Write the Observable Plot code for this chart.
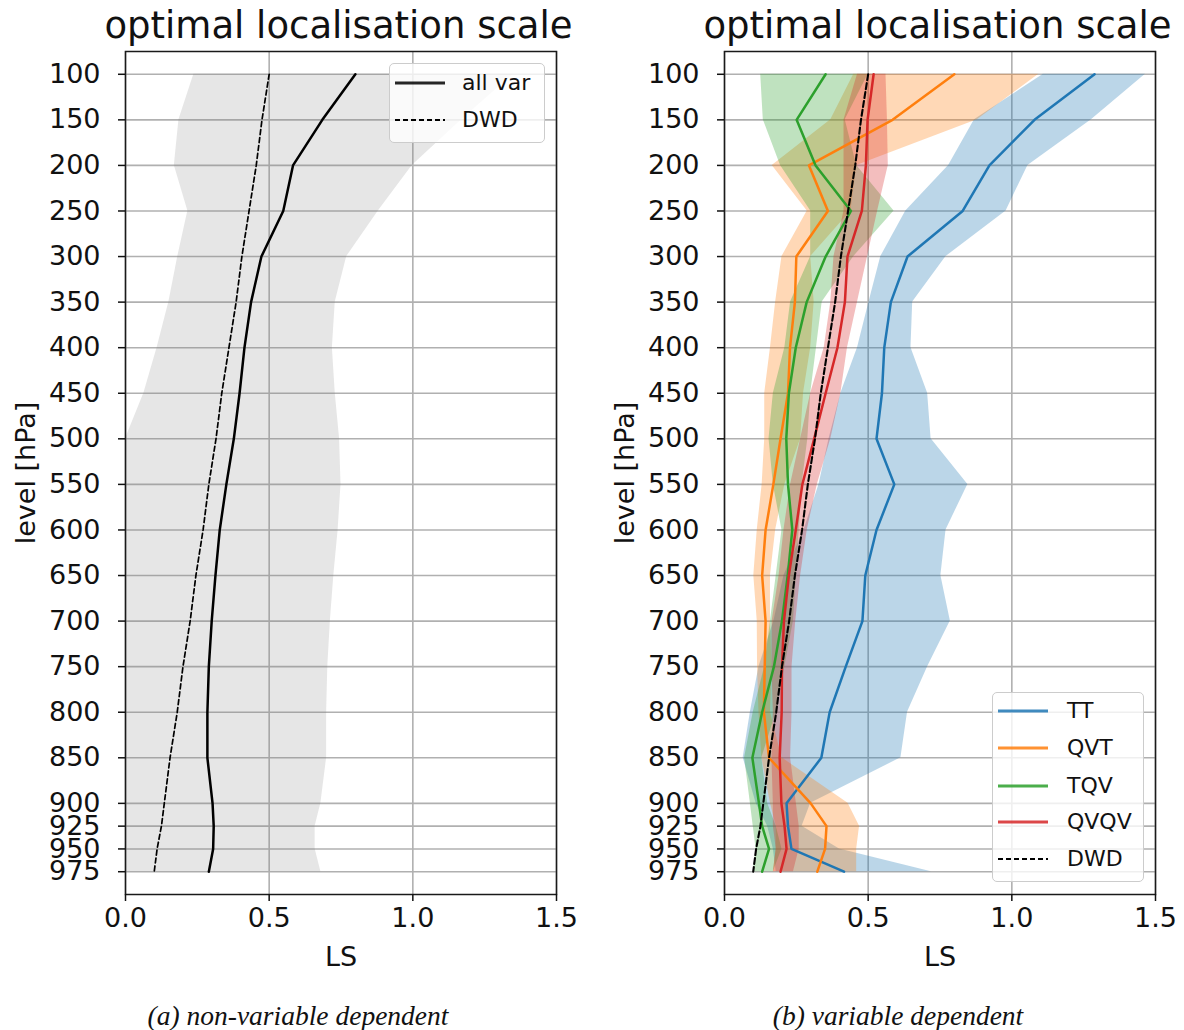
<!DOCTYPE html>
<html>
<head>
<meta charset="utf-8">
<script src="https://cdn.jsdelivr.net/npm/d3@7"></script>
<script src="https://cdn.jsdelivr.net/npm/@observablehq/plot@0.6"></script>
<style>
  body { margin: 0; background: white; }
  #wrap { position: relative; width: 1184px; height: 1030px; background: white; font-family: "DejaVu Sans", sans-serif; color: #111; }
  .panel { position: absolute; top: 0; }
  .title { position: absolute; top: 7px; font-size: 37px; line-height: 37px; white-space: nowrap; transform: translateX(-50%); }
  .caption { position: absolute; top: 1002px; font-family: "Liberation Serif", serif; font-style: italic; font-size: 27.5px; line-height: 27px; white-space: nowrap; transform: translateX(-50%); }
  .legend { position: absolute; background: rgba(255,255,255,0.8); border: 1.5px solid #cccccc; border-radius: 5px; box-sizing: border-box; }
  .legend .row { position: absolute; left: 0; height: 0; }
  .legend svg { position: absolute; left: 5px; top: -5px; overflow: visible; }
  .legend span { position: absolute; top: -13px; font-size: 22px; line-height: 26px; white-space: nowrap; color: #111; }
</style>
</head>
<body>
<div id="wrap"></div>
<script>
// ---------------- data ----------------
const levels = [100,150,200,250,300,350,400,450,500,550,600,650,700,750,800,850,900,925,950,975];
const xTicks = [0, 0.5, 1.0, 1.5];

// (a) non-variable dependent
const allVar   = [0.800,0.685,0.583,0.549,0.473,0.437,0.414,0.397,0.377,0.351,0.328,0.313,0.300,0.290,0.285,0.285,0.303,0.307,0.305,0.290];
const allVarLo = [0.238,0.186,0.170,0.217,0.182,0.151,0.110,0.064,0.000,0.000,0.000,0.000,0.000,0.000,0.000,0.000,0.000,0.000,0.000,0.000];
const allVarHi = [1.350,1.170,0.998,0.880,0.770,0.730,0.720,0.730,0.745,0.750,0.740,0.725,0.713,0.704,0.700,0.700,0.680,0.660,0.660,0.680];
const dwd      = [0.500,0.475,0.455,0.430,0.405,0.385,0.360,0.335,0.315,0.290,0.270,0.245,0.225,0.200,0.180,0.155,0.135,0.125,0.110,0.100];

// (b) variable dependent
const seriesNames  = ["TT","QVT","TQV","QVQV"];
const seriesColors = ["#1f77b4","#ff7f0e","#2ca02c","#d62728"];
const TT     = [1.288,1.079,0.922,0.829,0.637,0.579,0.556,0.548,0.529,0.591,0.529,0.490,0.480,0.422,0.366,0.337,0.216,0.221,0.233,0.416];
const TTlo   = [1.110,0.870,0.780,0.631,0.544,0.503,0.463,0.405,0.364,0.329,0.277,0.207,0.172,0.120,0.090,0.065,0.110,0.150,0.170,0.180];
const TThi   = [1.465,1.277,1.056,0.980,0.771,0.655,0.649,0.707,0.719,0.847,0.771,0.753,0.786,0.707,0.637,0.614,0.300,0.270,0.400,0.720];
const QVT    = [0.800,0.585,0.294,0.360,0.250,0.245,0.228,0.221,0.195,0.170,0.143,0.131,0.143,0.140,0.137,0.155,0.300,0.355,0.350,0.323];
const QVTlo  = [0.450,0.370,0.166,0.288,0.200,0.178,0.160,0.140,0.140,0.131,0.114,0.102,0.114,0.115,0.120,0.130,0.160,0.180,0.180,0.170];
const QVThi  = [1.094,0.880,0.460,0.440,0.300,0.312,0.300,0.275,0.265,0.210,0.178,0.160,0.160,0.165,0.160,0.200,0.430,0.470,0.460,0.460];
const TQV    = [0.352,0.251,0.317,0.440,0.352,0.286,0.248,0.224,0.215,0.221,0.236,0.220,0.200,0.172,0.131,0.097,0.120,0.131,0.155,0.131];
const TQVlo  = [0.126,0.135,0.195,0.300,0.300,0.230,0.210,0.170,0.155,0.170,0.200,0.180,0.160,0.140,0.100,0.070,0.090,0.100,0.110,0.100];
const TQVhi  = [0.500,0.420,0.460,0.590,0.450,0.340,0.320,0.300,0.290,0.270,0.260,0.250,0.240,0.210,0.180,0.130,0.150,0.180,0.200,0.170];
const QVQV   = [0.519,0.498,0.492,0.478,0.428,0.419,0.393,0.352,0.312,0.271,0.248,0.224,0.207,0.200,0.199,0.192,0.198,0.209,0.216,0.195];
const QVQVlo = [0.463,0.416,0.416,0.416,0.381,0.370,0.347,0.300,0.265,0.230,0.207,0.190,0.166,0.165,0.170,0.165,0.170,0.170,0.180,0.170];
const QVQVhi = [0.562,0.567,0.570,0.533,0.498,0.463,0.428,0.405,0.370,0.323,0.288,0.265,0.248,0.235,0.235,0.230,0.250,0.260,0.260,0.240];

const titleText = "optimal localisation scale";
const xLabel = "LS";
const yLabel = "level [hPa]";
const captions = ["(a) non-variable dependent", "(b) variable dependent"];

// ---------------- helpers ----------------
const rows = (v, lo, hi, series) => levels.map((p, i) => ({level: p, v: v[i], lo: lo ? lo[i] : null, hi: hi ? hi[i] : null, series}));

const leftData = rows(allVar, allVarLo, allVarHi, "all var");
const dwdData  = rows(dwd, null, null, "DWD");
const rightData = [
  ...rows(TT, TTlo, TThi, "TT"),
  ...rows(QVT, QVTlo, QVThi, "QVT"),
  ...rows(TQV, TQVlo, TQVhi, "TQV"),
  ...rows(QVQV, QVQVlo, QVQVhi, "QVQV")
];

const W = 592, H = 990;
const FS = 27;

function baseMarks() {
  return [
    Plot.gridX({ticks: xTicks, stroke: "#b0b0b0", strokeOpacity: 1, strokeWidth: 1.6}),
    Plot.gridY({ticks: levels, stroke: "#b0b0b0", strokeOpacity: 1, strokeWidth: 1.6})
  ];
}
function axisMarks() {
  return [
    Plot.frame({stroke: "#1a1a1a", strokeWidth: 1.5}),
    Plot.axisX({ticks: xTicks, tickFormat: d3.format(".1f"), tickSize: 7, tickPadding: 6, fontSize: FS,
      strokeWidth: 1.5, label: xLabel, labelAnchor: "center", labelArrow: "none", labelOffset: 71}),
    Plot.axisY({ticks: levels, tickFormat: d => String(d), tickSize: 7, tickPadding: 18, fontSize: FS,
      strokeWidth: 1.5, label: yLabel, labelAnchor: "center", labelArrow: "none", labelOffset: 110})
  ];
}
const common = {
  width: W, height: H,
  x: {domain: [0, 1.5]},
  y: {domain: [75, 1000], reverse: true},
  style: {fontFamily: "DejaVu Sans", fontSize: FS + "px", color: "#111", background: "transparent", overflow: "visible"}
};

// ---------------- left panel ----------------
const left = Plot.plot({
  ...common,
  marginLeft: 125, marginRight: 36, marginTop: 51, marginBottom: 96,
  marks: [
    ...baseMarks(),
    Plot.areaX(leftData, {y: "level", x1: "lo", x2: "hi", fill: "grey", fillOpacity: 0.2, clip: true}),
    Plot.line(dwdData, {x: "v", y: "level", stroke: "black", strokeWidth: 1.7, strokeDasharray: "5,3"}),
    Plot.line(leftData, {x: "v", y: "level", stroke: "black", strokeWidth: 2.5}),
    ...axisMarks()
  ]
});

// ---------------- right panel ----------------
const right = Plot.plot({
  ...common,
  marginLeft: 132, marginRight: 29, marginTop: 51, marginBottom: 96,
  color: {domain: seriesNames, range: seriesColors},
  marks: [
    ...baseMarks(),
    Plot.areaX(rightData, {y: "level", x1: "lo", x2: "hi", fill: "series", fillOpacity: 0.3, clip: true}),
    Plot.line(rightData, {x: "v", y: "level", stroke: "series", strokeWidth: 2.5}),
    Plot.line(dwdData, {x: "v", y: "level", stroke: "black", strokeWidth: 2.1, strokeDasharray: "6,3"}),
    ...axisMarks()
  ]
});

const wrap = document.getElementById("wrap");
function place(node, x) {
  const d = document.createElement("div");
  d.className = "panel";
  d.style.left = x + "px";
  d.appendChild(node);
  wrap.appendChild(d);
}
place(left, 0);
place(right, W);

function addDiv(cls, text, x, y) {
  const d = document.createElement("div");
  d.className = cls;
  d.textContent = text;
  d.style.left = x + "px";
  if (y != null) d.style.top = y + "px";
  wrap.appendChild(d);
  return d;
}
addDiv("title", titleText, 338.5);
addDiv("title", titleText, 937.5);
addDiv("caption", captions[0], 298);
addDiv("caption", captions[1], 898);

function legend(x, y, w, h, entries, rowYs, textX) {
  const box = document.createElement("div");
  box.className = "legend";
  box.style.left = x + "px"; box.style.top = y + "px";
  box.style.width = w + "px"; box.style.height = h + "px";
  entries.forEach((e, i) => {
    const r = document.createElement("div");
    r.className = "row";
    r.style.top = rowYs[i] + "px";
    r.innerHTML = `<svg width="52" height="10"><line x1="0" x2="50" y1="5" y2="5" stroke="${e.color}" stroke-width="${e.dash ? 1.8 : 3}" ${e.dash ? 'stroke-dasharray="5,3"' : ''} stroke-opacity="${e.dash ? 1 : 0.85}"/></svg><span style="left:${textX}px">${e.name}</span>`;
    box.appendChild(r);
  });
  wrap.appendChild(box);
}
legend(389, 63, 156, 80,
  [{name: "all var", color: "black"}, {name: "DWD", color: "black", dash: true}],
  [19, 56], 72);
legend(992, 692, 152, 190,
  [...seriesNames.map((n, i) => ({name: n, color: seriesColors[i]})), {name: "DWD", color: "black", dash: true}],
  [18, 55, 93, 129, 166], 74);
</script>
</body>
</html>
